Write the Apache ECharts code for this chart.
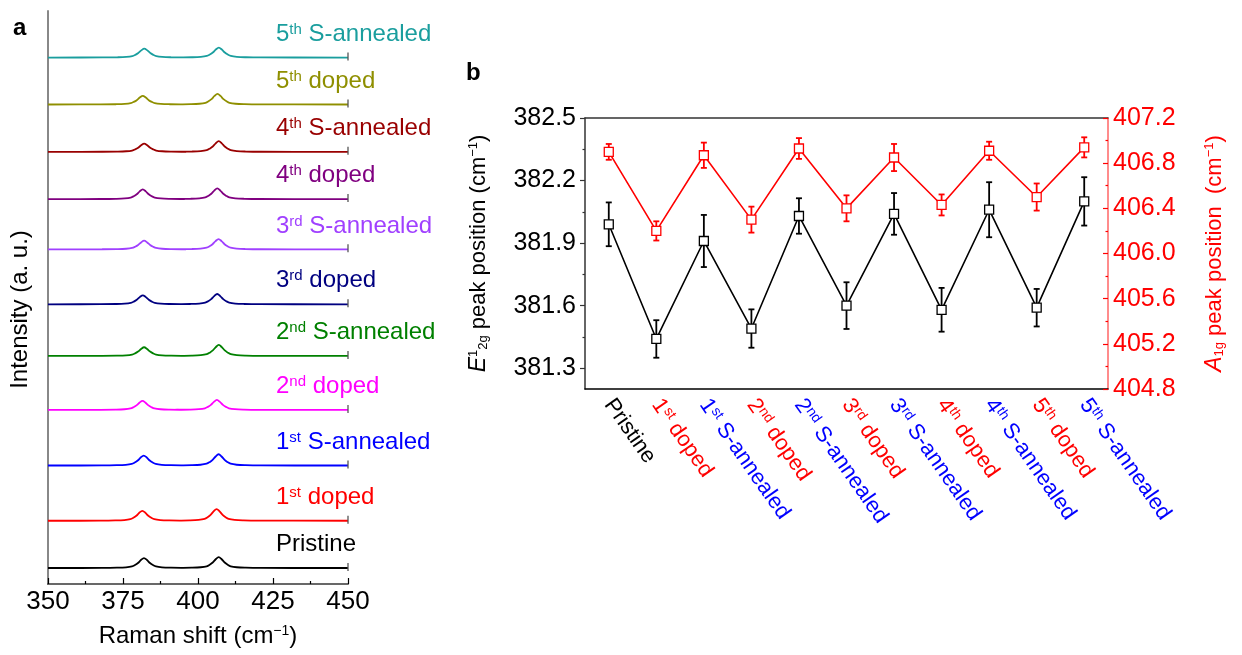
<!DOCTYPE html>
<html>
<head>
<meta charset="utf-8">
<script src="https://cdn.jsdelivr.net/npm/echarts@6/dist/echarts.min.js"></script>
<style>
html,body{margin:0;padding:0;background:#fff;}
#c{width:1242px;height:655px;}
</style>
</head>
<body>
<div id="c"></div>
<script>
// ---------- Data ----------
// Panel b categories (also the sample names in panel a, bottom to top)
const categories = ['Pristine','1st doped','1st S-annealed','2nd doped','2nd S-annealed','3rd doped','3rd S-annealed','4th doped','4th S-annealed','5th doped','5th S-annealed'];
// E2g peak positions (cm-1) and error
const e2gValues = [381.99, 381.44, 381.91, 381.49, 382.03, 381.60, 382.04, 381.58, 382.06, 381.59, 382.10];
const e2gErrors = [0.105, 0.090, 0.125, 0.092, 0.085, 0.112, 0.100, 0.105, 0.132, 0.090, 0.116];
// A1g peak positions (cm-1) and error
const a1gValues = [406.90, 406.20, 406.87, 406.30, 406.93, 406.40, 406.85, 406.43, 406.91, 406.50, 406.94];
const a1gErrors = [0.070, 0.085, 0.112, 0.115, 0.092, 0.115, 0.120, 0.093, 0.080, 0.120, 0.089];
// Left axis tick labels
const e2gTickLabels = [381.3, 381.6, 381.9, 382.2, 382.5];
const e2gMinorTicks = [381.45, 381.75, 382.05, 382.35];

// Panel a: vertical offsets of each spectrum (a.u.), peak heights (a.u.)
const specOffsets = [1.60, 6.33, 11.86, 17.43, 22.83, 28.00, 33.50, 38.53, 43.26, 48.00, 52.70];
const e2gHeights = [1.00, 1.00, 1.00, 0.90, 0.87, 0.90, 0.87, 0.97, 0.83, 0.87, 0.90];
const a1gHeights = [1.10, 1.17, 1.13, 1.00, 1.10, 1.03, 1.03, 1.07, 1.07, 1.07, 1.00];
// Peak profile: shift from peak centre (cm-1) and relative intensity
const profileShift = [-14, -9, -6, -4, -3, -2, -1, 0, 1, 2, 3, 4, 6, 9, 14];
const profileLevel = [0.01, 0.03, 0.07, 0.16, 0.30, 0.50, 0.80, 1.00, 0.80, 0.50, 0.30, 0.16, 0.07, 0.03, 0.01];
const ramanRange = [350, 450];
const specColors = ['#000000','#FF0000','#0000FF','#FF00FF','#008000','#000080','#A040FF','#800080','#990000','#8F8F00','#1A9E9E'];

// ---------- Build ----------
const FONT = '"Liberation Sans", Arial, sans-serif';

function spectrum(i) {
  const pts = [[ramanRange[0], specOffsets[i]]];
  profileShift.forEach((d, k) => pts.push([e2gValues[i] + d, specOffsets[i] + e2gHeights[i] * profileLevel[k]]));
  profileShift.forEach((d, k) => pts.push([a1gValues[i] + d, specOffsets[i] + a1gHeights[i] * profileLevel[k]]));
  pts.push([ramanRange[1], specOffsets[i]]);
  return pts;
}

function richName(v, t) {
  const m = v.match(/^(\d)(st|nd|rd|th) (.+)$/);
  if (!m) return '{' + t + '|' + v + '}';
  return '{' + t + '|' + m[1] + '}{' + t + 's|' + m[2] + '}{' + t + '| ' + m[3] + '}';
}
function typeOf(v) { return v.indexOf('doped') >= 0 ? 'r' : (v.indexOf('S-annealed') >= 0 ? 'b' : 'k'); }

const series = [];
categories.forEach((name, i) => {
  series.push({
    type: 'line', xAxisIndex: 0, yAxisIndex: 0, name: name,
    data: spectrum(i), showSymbol: false, symbol: 'none', smooth: 0.35,
    lineStyle: { color: specColors[i], width: 1.8 }, z: 3, silent: true,
    markPoint: {
      symbol: 'circle', symbolSize: 0, silent: true,
      data: [{ coord: [426, specOffsets[i] + 2.35] }],
      label: {
        show: true, position: 'right', distance: 0, formatter: richName(name, 'p'),
        rich: {
          p: { fontSize: 24, color: specColors[i], fontFamily: FONT },
          ps: { fontSize: 15, color: specColors[i], fontFamily: FONT, verticalAlign: 'top', lineHeight: 15 }
        }
      }
    }
  });
});
// right-end small segments for each spectrum
series.push({
  type: 'custom', xAxisIndex: 0, yAxisIndex: 0, silent: true, z: 4,
  data: specOffsets.map(o => [ramanRange[1], o]),
  renderItem: function (params, api) {
    const p1 = api.coord([api.value(0), api.value(1)]);
    return { type: 'line', shape: { x1: p1[0], y1: p1[1] - 5, x2: p1[0], y2: p1[1] + 3 }, style: { stroke: '#555', lineWidth: 1.3 } };
  }
});

function errSeries(vals, errs, color, yIdx) {
  return {
    type: 'custom', xAxisIndex: 2, yAxisIndex: yIdx, silent: true, z: 5,
    data: vals.map((v, i) => [i, v - errs[i], v + errs[i]]),
    renderItem: function (params, api) {
      const lo = api.coord([api.value(0), api.value(1)]);
      const hi = api.coord([api.value(0), api.value(2)]);
      const w = 3;
      const st = { stroke: color, lineWidth: 1.8 };
      return { type: 'group', children: [
        { type: 'line', shape: { x1: lo[0], y1: lo[1], x2: hi[0], y2: hi[1] }, style: st },
        { type: 'line', shape: { x1: lo[0] - w, y1: lo[1], x2: lo[0] + w, y2: lo[1] }, style: st },
        { type: 'line', shape: { x1: hi[0] - w, y1: hi[1], x2: hi[0] + w, y2: hi[1] }, style: st }
      ]};
    }
  };
}
series.push(errSeries(e2gValues, e2gErrors, '#000', 2));
series.push(errSeries(a1gValues, a1gErrors, '#FF0000', 4));
series.push({
  type: 'line', xAxisIndex: 2, yAxisIndex: 2, data: e2gValues, symbol: 'rect', symbolSize: 9, z: 6,
  lineStyle: { color: '#000', width: 1.6 }, itemStyle: { color: '#fff', borderColor: '#000', borderWidth: 1.3 }, silent: true
});
series.push({
  type: 'line', xAxisIndex: 2, yAxisIndex: 4, data: a1gValues, symbol: 'rect', symbolSize: 9, z: 6,
  lineStyle: { color: '#FF0000', width: 1.6 }, itemStyle: { color: '#fff', borderColor: '#FF0000', borderWidth: 1.3 }, silent: true
});

const option = {
  animation: false,
  backgroundColor: '#fff',
  textStyle: { fontFamily: FONT },
  title: [
    { text: 'a', left: 8, top: 11, textStyle: { fontSize: 24, fontWeight: 'bold', color: '#000', fontFamily: FONT } },
    { text: 'b', left: 461, top: 56, textStyle: { fontSize: 24, fontWeight: 'bold', color: '#000', fontFamily: FONT } }
  ],
  grid: [
    { left: 48, top: 11, width: 300, height: 573 },
    { left: 585, top: 118, width: 523, height: 271 }
  ],
  xAxis: [
    { gridIndex: 0, type: 'value', min: 350, max: 450, interval: 25, position: 'bottom',
      axisLine: { lineStyle: { color: '#000', width: 1.5 } },
      axisTick: { inside: true, length: 6, lineStyle: { color: '#000', width: 1.2 } },
      minorTick: { show: true, splitNumber: 2, length: 3, lineStyle: { color: '#000', width: 1.2 } },
      splitLine: { show: false },
      axisLabel: { fontSize: 26, color: '#000', margin: 5, fontFamily: FONT },
      name: 'Raman shift (cm{s|−1})', nameLocation: 'middle', nameGap: 40,
      nameTextStyle: { fontSize: 24, color: '#000', fontFamily: FONT,
        rich: { s: { fontSize: 14, verticalAlign: 'top', lineHeight: 14, color: '#000' } } }
    },
    { gridIndex: 0, type: 'value', min: 350, max: 450, position: 'top',
      axisLine: { lineStyle: { color: '#777', width: 1.5 } }, axisTick: { show: false }, axisLabel: { show: false }, splitLine: { show: false } },
    { gridIndex: 1, type: 'category', data: categories, boundaryGap: true, position: 'bottom',
      axisLine: { lineStyle: { color: '#000', width: 1.5 } },
      axisTick: { inside: true, alignWithLabel: true, length: 5, lineStyle: { color: '#000', width: 1.2 } },
      axisLabel: {
        interval: 0, rotate: -55, margin: 12, fontSize: 22, fontFamily: FONT,
        formatter: function (v) { return richName(v, typeOf(v)); },
        rich: {
          k: { fontSize: 22, color: '#000' }, ks: { fontSize: 14, color: '#000', verticalAlign: 'top', lineHeight: 14 },
          r: { fontSize: 22, color: '#FF0000' }, rs: { fontSize: 14, color: '#FF0000', verticalAlign: 'top', lineHeight: 14 },
          b: { fontSize: 22, color: '#0000FF' }, bs: { fontSize: 14, color: '#0000FF', verticalAlign: 'top', lineHeight: 14 }
        }
      }
    },
    { gridIndex: 1, type: 'value', min: 0, max: 1, position: 'top',
      axisLine: { lineStyle: { color: '#333', width: 1.5 } }, axisTick: { show: false }, axisLabel: { show: false }, splitLine: { show: false } }
  ],
  yAxis: [
    { gridIndex: 0, type: 'value', min: 0, max: 57.36, position: 'left',
      axisLine: { lineStyle: { color: '#888', width: 2 } }, axisTick: { show: false }, axisLabel: { show: false }, splitLine: { show: false },
      name: 'Intensity (a. u.)', nameLocation: 'middle', nameGap: 16, nameRotate: 90,
      nameTextStyle: { fontSize: 24, color: '#000', fontFamily: FONT, padding: [0, 24, 0, 0] }
    },
    { gridIndex: 0, type: 'value', min: 0, max: 57.36, position: 'right',
      axisLine: { show: false }, axisTick: { show: false }, axisLabel: { show: false }, splitLine: { show: false } },
    { gridIndex: 1, type: 'value', min: 381.2, max: 382.5, position: 'left',
      axisLine: { lineStyle: { color: '#333', width: 1.5 } },
      axisTick: { show: true, inside: false, length: 5, customValues: e2gTickLabels, lineStyle: { color: '#333', width: 1.2 } },
      axisLabel: { fontSize: 25, color: '#000', margin: 9, customValues: e2gTickLabels, fontFamily: FONT,
        formatter: function (v) { return v.toFixed(1); } },
      splitLine: { show: false },
      name: '{i|E}{s|1}{d|2g}{n| peak position (cm}{t|−1}{n|)}', nameLocation: 'middle', nameGap: 95, nameRotate: 90,
      nameTextStyle: { fontSize: 22, color: '#000', fontFamily: FONT,
        rich: {
          i: { fontSize: 23, fontStyle: 'italic', color: '#000' },
          s: { fontSize: 13, verticalAlign: 'top', lineHeight: 13, color: '#000' },
          d: { fontSize: 13, verticalAlign: 'bottom', lineHeight: 13, color: '#000' },
          n: { fontSize: 22, color: '#000' },
          t: { fontSize: 13, verticalAlign: 'top', lineHeight: 13, color: '#000' }
        } }
    },
    { gridIndex: 1, type: 'value', min: 381.2, max: 382.5, position: 'left',
      axisLine: { show: false },
      axisTick: { show: true, inside: false, length: 2.5, customValues: e2gMinorTicks, lineStyle: { color: '#333', width: 1.2 } },
      axisLabel: { show: false }, splitLine: { show: false } },
    { gridIndex: 1, type: 'value', min: 404.8, max: 407.2, interval: 0.4, position: 'right',
      axisLine: { lineStyle: { color: '#FF6666', width: 1.5 } },
      axisTick: { inside: true, length: 5, lineStyle: { color: '#FF0000', width: 1.2 } },
      minorTick: { show: true, splitNumber: 2, length: 2.5, lineStyle: { color: '#FF0000', width: 1.2 } },
      axisLabel: { fontSize: 25, color: '#FF0000', margin: 5, fontFamily: FONT, formatter: function (v) { return v.toFixed(1); } },
      splitLine: { show: false },
      name: '{i|A}{d|1g}{n| peak position  (cm}{t|−1}{n|)}', nameLocation: 'middle', nameGap: 95, nameRotate: 90,
      nameTextStyle: { fontSize: 22, color: '#FF0000', fontFamily: FONT,
        rich: {
          i: { fontSize: 23, fontStyle: 'italic', color: '#FF0000' },
          d: { fontSize: 13, verticalAlign: 'bottom', lineHeight: 13, color: '#FF0000' },
          n: { fontSize: 22, color: '#FF0000' },
          t: { fontSize: 13, verticalAlign: 'top', lineHeight: 13, color: '#FF0000' }
        } }
    }
  ],
  series: series
};

const chart = echarts.init(document.getElementById('c'), null, { renderer: 'canvas' });
chart.setOption(option);
</script>
</body>
</html>
